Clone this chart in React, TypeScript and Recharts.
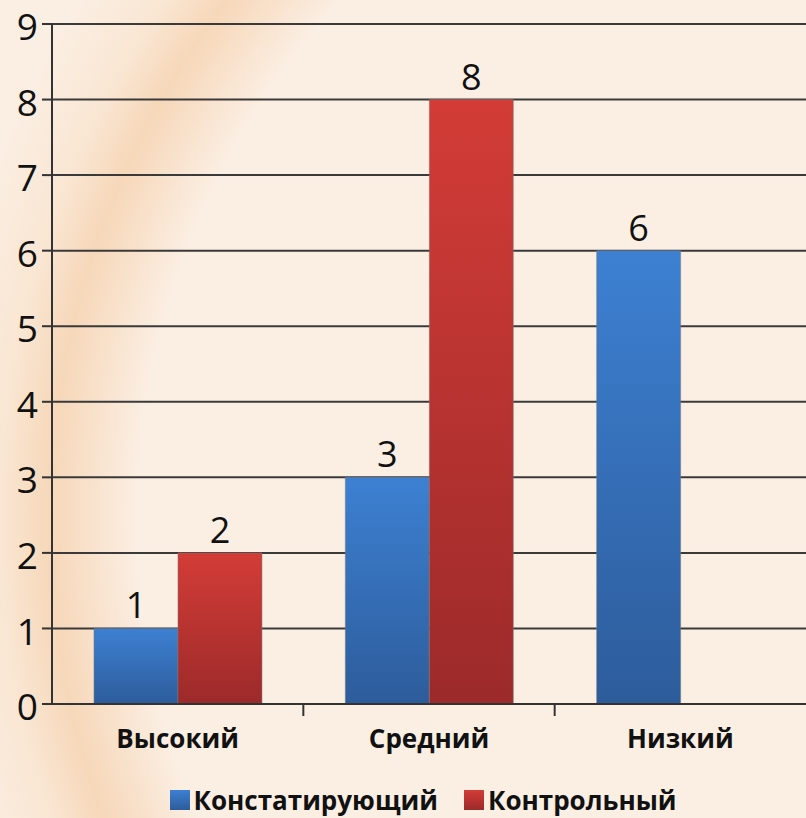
import { Bar, BarChart, CartesianGrid, LabelList, Legend, XAxis, YAxis } from 'recharts';

const categories = ['Высокий', 'Средний', 'Низкий'];
const konstatValues = [1, 3, 6];
const kontrolValues = [2, 8, 0];
const yTicks = [0, 1, 2, 3, 4, 5, 6, 7, 8, 9];

const data = categories.map((name, i) => ({
  name,
  konstat: konstatValues[i],
  kontrol: kontrolValues[i] || null,
}));

const FONT = '"Open Sans", "DejaVu Sans", sans-serif';
const W = 806;
const H = 818;
const Y_AXIS_W = 52;
const BAND = (W - Y_AXIS_W) / categories.length;

function CategoryTick(props: any) {
  const { x, y, payload, index } = props;
  return (
    <g>
      <text
        x={x}
        y={y + 36}
        textAnchor="middle"
        fontFamily={FONT}
        fontWeight={700}
        fontSize={26}
        fill="#111"
      >
        {payload.value}
      </text>
      {index < categories.length - 1 && (
        <line x1={x + BAND / 2} x2={x + BAND / 2} y1={y - 8} y2={y + 4} stroke="#333" strokeWidth={2} />
      )}
    </g>
  );
}

function LegendContent() {
  const items = [
    { label: 'Констатирующий', grad: 'url(#blueGrad)' },
    { label: 'Контрольный', grad: 'url(#redGrad)' },
  ];
  return (
    <div
      style={{
        display: 'flex',
        justifyContent: 'center',
        gap: 26,
        fontFamily: FONT,
        marginLeft: 40,
        paddingTop: 18,
      }}
    >
      {items.map((it) => (
        <div key={it.label} style={{ display: 'flex', alignItems: 'center', gap: 4 }}>
          <svg width={20} height={20}>
            <rect width={20} height={20} fill={it.grad} />
          </svg>
          <span style={{ fontSize: 26, fontWeight: 700, color: '#111' }}>{it.label}</span>
        </div>
      ))}
    </div>
  );
}

export default function App() {
  return (
    <div
      style={{
        width: W,
        height: H,
        position: 'fixed',
        top: 0,
        left: 0,
        overflow: 'hidden',
        background:
          'radial-gradient(circle at 900px 520px, rgba(251,239,228,0) 760px, rgba(243,196,150,0.55) 850px, rgba(246,214,180,0.35) 900px, rgba(251,239,228,0) 980px), #fbefe4',
      }}
    >
      <BarChart
        width={W}
        height={H}
        data={data}
        margin={{ top: 24, right: 0, bottom: 0, left: 0 }}
        barCategoryGap="16.7%"
        barGap={0}
      >
        <defs>
          <linearGradient id="blueGrad" x1="0" y1="0" x2="0" y2="1">
            <stop offset="0%" stopColor="#3d80d2" />
            <stop offset="100%" stopColor="#2d5c9b" />
          </linearGradient>
          <linearGradient id="redGrad" x1="0" y1="0" x2="0" y2="1">
            <stop offset="0%" stopColor="#d33c37" />
            <stop offset="100%" stopColor="#9c2a2a" />
          </linearGradient>
        </defs>
        <CartesianGrid vertical={false} stroke="#3a3a3a" strokeWidth={2} />
        <XAxis
          dataKey="name"
          height={60}
          tickLine={false}
          axisLine={{ stroke: '#333', strokeWidth: 2 }}
          tick={<CategoryTick />}
          interval={0}
        />
        <YAxis
          width={Y_AXIS_W}
          domain={[0, 9]}
          ticks={yTicks}
          interval={0}
          tickSize={10}
          tickMargin={4}
          axisLine={{ stroke: '#333', strokeWidth: 2 }}
          tickLine={{ stroke: '#333', strokeWidth: 2 }}
          tick={{ fontFamily: FONT, fontSize: 37, fill: '#111', dy: 3 }}
        />
        <Legend verticalAlign="bottom" height={54} content={<LegendContent />} />
        <Bar dataKey="konstat" fill="url(#blueGrad)" stroke="#7a7a7a" strokeWidth={0.5} isAnimationActive={false}>
          <LabelList dataKey="konstat" position="top" offset={10} style={{ fontFamily: FONT, fontSize: 36, fill: '#111' }} />
        </Bar>
        <Bar dataKey="kontrol" fill="url(#redGrad)" stroke="#7a7a7a" strokeWidth={0.5} isAnimationActive={false}>
          <LabelList dataKey="kontrol" position="top" offset={10} style={{ fontFamily: FONT, fontSize: 36, fill: '#111' }} />
        </Bar>
      </BarChart>
    </div>
  );
}
